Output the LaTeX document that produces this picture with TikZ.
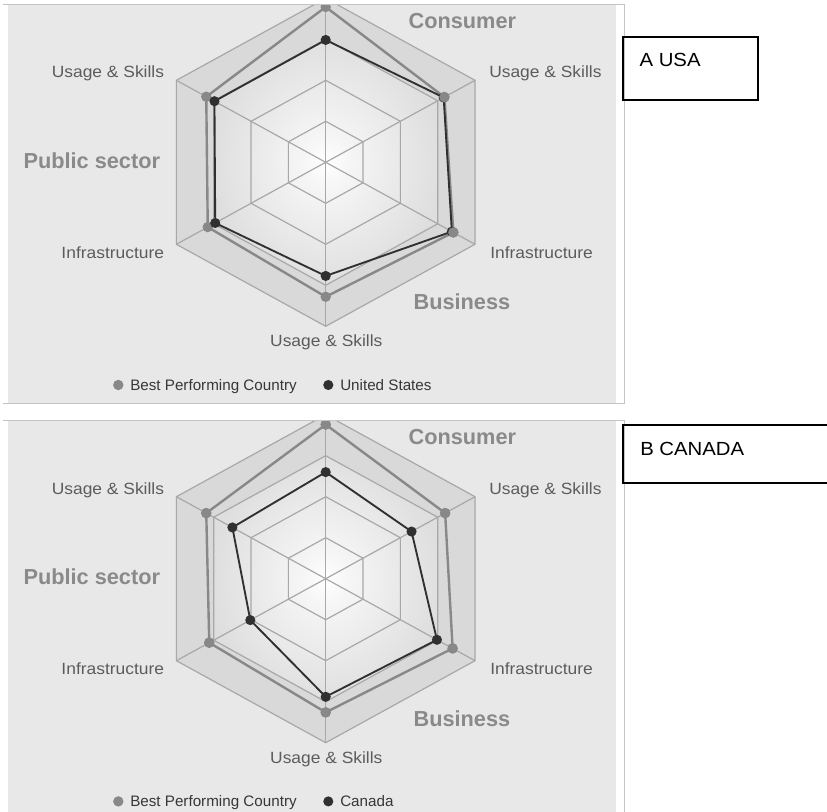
\documentclass[tikz,border=0pt]{standalone}
\usepackage{fontspec}
\setmainfont{Liberation Sans}
\newfontfamily\labfont[FakeStretch=1.07]{Liberation Sans}
\usetikzlibrary{calc}
\definecolor{panelbg}{RGB}{232,232,232}
\definecolor{panelline}{RGB}{196,196,196}
\definecolor{gridline}{RGB}{168,168,168}
\definecolor{bandouter}{RGB}{217,217,217}
\definecolor{hexgray}{RGB}{222,222,222}
\definecolor{hexlight}{RGB}{246,246,246}
\definecolor{bestcol}{RGB}{136,136,136}
\definecolor{ctrycol}{RGB}{48,48,48}
\definecolor{labcol}{RGB}{92,92,92}
\definecolor{catcol}{RGB}{138,138,138}
\definecolor{legcol}{RGB}{55,55,55}
\pgfdeclareradialshading{hexshade}{\pgfpoint{0bp}{0bp}}{color(0bp)=(white); color(5bp)=(hexlight); color(26bp)=(hexgray); color(50bp)=(hexgray)}
\tikzset{
  gridstyle/.style={draw=gridline, line width=0.9pt},
  bestline/.style={draw=bestcol, line width=1.8pt, line join=round},
  ctryline/.style={draw=ctrycol, line width=1.4pt, line join=round},
  bestdot/.style={circle, fill=bestcol, inner sep=0pt, minimum size=7.8pt},
  ctrydot/.style={circle, fill=ctrycol, inner sep=0pt, minimum size=7.6pt},
  axl/.style={font=\labfont\fontsize{12.2pt}{14pt}\selectfont, text=labcol, inner sep=0pt},
  cat/.style={font=\bfseries\fontsize{16.3pt}{18pt}\selectfont, text=catcol, inner sep=0pt},
  legtxt/.style={font=\fontsize{11.4pt}{13pt}\selectfont, text=legcol, inner sep=0pt},
  boxtxt/.style={font=\labfont\fontsize{14.25pt}{16pt}\selectfont, text=black, inner sep=0pt},
  boxframe/.style={draw=black, line width=1.5pt},
  panelframe/.style={draw=panelline, line width=0.8pt},
}
% #1 prefix, #2 vertical offset, #3 best values, #4 country values, #5 country name, #6 best dots to redraw on top
\newcommand\drawradar[6]{%
\begin{scope}[shift={(0,#2)}]
  \begin{scope}
    \clip (0,4.5) rectangle (827,403);
    \fill[panelbg] (8,4.5) rectangle (616,403);
    \begin{scope}[shift={(325.7,162.3)}, yscale=-1]
      \coordinate (#1c) at (0,0);
      \foreach \a [count=\i] in {90,30,-30,-90,-150,150} {
        \foreach \r/\k in {0.25/1,0.5/2,0.75/3,1/4}
          \coordinate (#1r\k v\i) at (\a:{172.4*\r} and {164*\r});
      }
      \fill[bandouter] (#1r4v1) -- (#1r4v2) -- (#1r4v3) -- (#1r4v4) -- (#1r4v5) -- (#1r4v6) -- cycle;
      \shade[shading=hexshade] (#1r3v1) -- (#1r3v2) -- (#1r3v3) -- (#1r3v4) -- (#1r3v5) -- (#1r3v6) -- cycle;
      \foreach \k in {1,2,3,4}
        \draw[gridstyle] (#1r\k v1) -- (#1r\k v2) -- (#1r\k v3) -- (#1r\k v4) -- (#1r\k v5) -- (#1r\k v6) -- cycle;
      \foreach \i in {1,...,6}
        \draw[gridstyle] (#1c) -- (#1r4v\i);
      \foreach \a/\v [count=\i] in {#3}
        \coordinate (#1b\i) at (\a:{172.4*\v} and {164*\v});
      \foreach \a/\v [count=\i] in {#4}
        \coordinate (#1d\i) at (\a:{172.4*\v} and {164*\v});
      \draw[bestline] (#1b1) -- (#1b2) -- (#1b3) -- (#1b4) -- (#1b5) -- (#1b6) -- cycle;
      \draw[ctryline] (#1d1) -- (#1d2) -- (#1d3) -- (#1d4) -- (#1d5) -- (#1d6) -- cycle;
      \foreach \i in {1,...,6}
        \node[bestdot] (#1bd\i) at (#1b\i) {};
      \foreach \i in {1,...,6}
        \node[ctrydot] (#1dd\i) at (#1d\i) {};
      \foreach \i in {#6}
        \node[bestdot] (#1bt\i) at (#1b\i) {};
    \end{scope}
  \end{scope}
  \draw[panelframe] (3,4.5) -- (624.5,4.5) -- (624.5,403.5) -- (3,403.5);
  \node[cat, anchor=base west] (#1consumer) at (408.3,28.3) {Consumer};
  \node[axl, anchor=base east] (#1usul) at (164.3,77.7) {Usage \& Skills};
  \node[axl, anchor=base west] (#1usur) at (489,78) {Usage \& Skills};
  \node[cat, anchor=base west] (#1public) at (23.3,168.3) {Public sector};
  \node[axl, anchor=base east] (#1infl) at (164.3,258.3) {Infrastructure};
  \node[axl, anchor=base west] (#1infr) at (490,258.3) {Infrastructure};
  \node[cat, anchor=base west] (#1business) at (413.3,310) {Business};
  \node[axl, anchor=base] (#1usb) at (326.3,346.7) {Usage \& Skills};
  \node[bestdot] (#1lg1) at (118.3,385) {};
  \node[legtxt, anchor=base west] (#1lt1) at (130,390) {Best Performing Country};
  \node[ctrydot] (#1lg2) at (328.3,385) {};
  \node[legtxt, anchor=base west] (#1lt2) at (340,390) {#5};
\end{scope}}
\begin{document}
\begin{tikzpicture}[x=0.75pt, y=-0.75pt]
  \clip (0,0) rectangle (827,812);
  \fill[white] (0,0) rectangle (827,812);
  \drawradar{U}{0}{90/0.947,30/0.795,-30/0.855,-90/0.82,-150/0.79,150/0.80}{90/0.746,30/0.79,-30/0.845,-90/0.693,-150/0.74,150/0.745}{United States}{2,3}
  \drawradar{K}{416.4}{90/0.94,30/0.80,-30/0.85,-90/0.815,-150/0.78,150/0.80}{90/0.65,30/0.575,-30/0.745,-90/0.72,-150/0.505,150/0.625}{Canada}{1,...,6}
  \draw[boxframe] (623.3,36.7) rectangle (757.7,100);
  \node[boxtxt, anchor=base west] (boxA) at (639.3,66.7) {A USA};
  \draw[boxframe] (623.3,425) rectangle (840,483.3);
  \node[boxtxt, anchor=base west] (boxB) at (640,455) {B CANADA};
\end{tikzpicture}
\end{document}
